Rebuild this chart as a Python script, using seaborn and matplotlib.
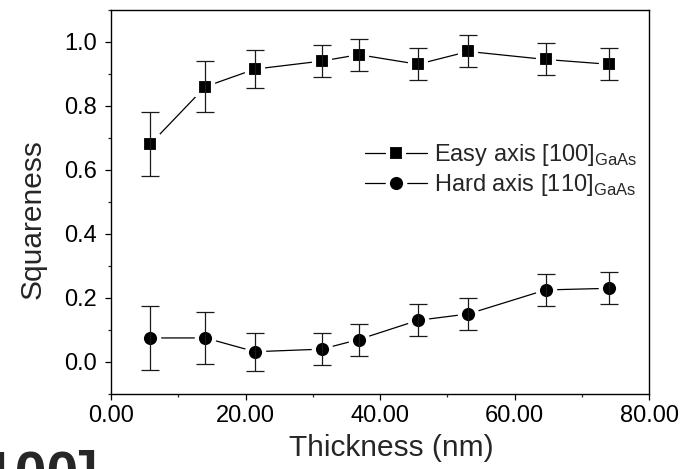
import matplotlib
matplotlib.use("Agg")
import matplotlib.pyplot as plt
import seaborn as sns
import pandas as pd
from matplotlib.ticker import MultipleLocator, FormatStrFormatter

thickness = [5.8, 14.0, 21.4, 31.3, 36.8, 45.6, 53.1, 64.6, 74.0]
easy_sq = [0.68, 0.86, 0.915, 0.94, 0.96, 0.93, 0.97, 0.945, 0.93]
easy_err = [0.10, 0.08, 0.06, 0.05, 0.05, 0.05, 0.05, 0.05, 0.05]
hard_sq = [0.075, 0.075, 0.032, 0.04, 0.07, 0.13, 0.15, 0.225, 0.23]
hard_err = [0.10, 0.08, 0.06, 0.05, 0.05, 0.05, 0.05, 0.05, 0.05]
labels = [r"Easy axis [100]$_\mathregular{GaAs}$", r"Hard axis [110]$_\mathregular{GaAs}$"]

sns.set_style("ticks")
plt.rcParams["font.family"] = ["Liberation Sans", "DejaVu Sans"]
plt.rcParams["mathtext.fontset"] = "custom"
plt.rcParams["mathtext.rm"] = "Liberation Sans"

fig = plt.figure(figsize=(6.82, 4.69), dpi=100)
ax = fig.add_axes([0.163, 0.160, 0.789, 0.819])

df_e = pd.DataFrame({"t": thickness, "s": easy_sq})
df_h = pd.DataFrame({"t": thickness, "s": hard_sq})

sns.lineplot(data=df_e, x="t", y="s", ax=ax, color="black", lw=0.9, marker="s",
             markersize=12, markeredgecolor="white", markeredgewidth=3,
             label=labels[0], zorder=2)
sns.lineplot(data=df_h, x="t", y="s", ax=ax, color="black", lw=0.9, marker="o",
             markersize=12.5, markeredgecolor="white", markeredgewidth=3,
             label=labels[1], zorder=2)
ax.errorbar(thickness, easy_sq, yerr=easy_err, fmt="none", ecolor="#1a1a1a",
            elinewidth=0.9, capsize=6.2, capthick=0.9, zorder=3)
ax.errorbar(thickness, hard_sq, yerr=hard_err, fmt="none", ecolor="#1a1a1a",
            elinewidth=0.9, capsize=6.2, capthick=0.9, zorder=3)

ax.set_xlim(0, 80)
ax.set_ylim(-0.1, 1.1)
ax.xaxis.set_major_locator(MultipleLocator(20))
ax.xaxis.set_minor_locator(MultipleLocator(10))
ax.yaxis.set_major_locator(MultipleLocator(0.2))
ax.yaxis.set_minor_locator(MultipleLocator(0.1))
ax.xaxis.set_major_formatter(FormatStrFormatter("%.2f"))
ax.yaxis.set_major_formatter(FormatStrFormatter("%.1f"))
ax.tick_params(axis="both", which="major", direction="out", length=4, width=0.9,
               labelsize=17, color="black", labelcolor="black")
ax.tick_params(axis="x", which="major", pad=4)
ax.tick_params(axis="y", which="major", pad=6.5)
ax.tick_params(axis="both", which="minor", direction="out", length=2.5, width=0.9)
for sp in ax.spines.values():
    sp.set_visible(True)
    sp.set_linewidth(1.0)
    sp.set_color("black")

ax.set_xlabel("Thickness (nm)", fontsize=21.5)
ax.set_ylabel("Squareness", fontsize=21.5)
ax.xaxis.set_label_coords(0.52, -0.105)
ax.yaxis.set_label_coords(-0.12, 0.455)

leg = ax.legend(loc="upper left", bbox_to_anchor=(0.472, 0.655), frameon=False,
                fontsize=17, handlelength=2.6, handletextpad=0.3,
                labelspacing=0.15, borderpad=0, borderaxespad=0)

fig.text(-0.051, -0.050, "[100]", fontsize=41, fontweight="bold",
         ha="left", va="baseline")

fig.savefig("out.png", dpi=100)
